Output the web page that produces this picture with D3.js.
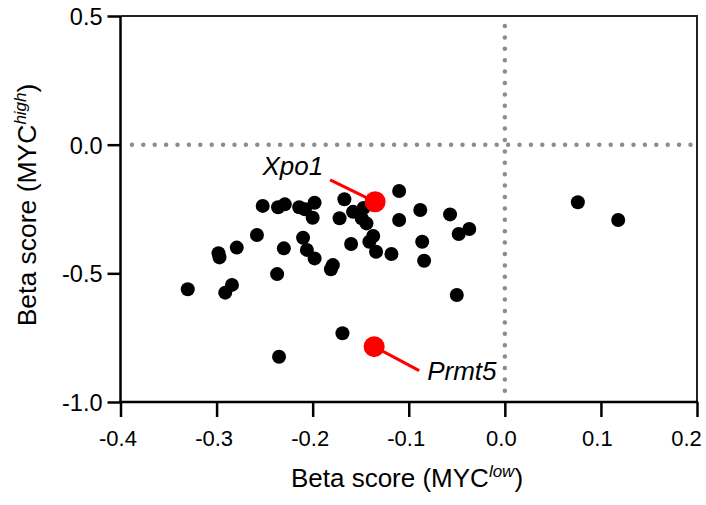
<!DOCTYPE html>
<html><head><meta charset="utf-8">
<script src="https://cdn.jsdelivr.net/npm/d3@7"></script>
<style>body{margin:0;background:#fff}svg{display:block;font-family:"Liberation Sans",Arial,sans-serif}</style>
</head><body><svg id="c" width="706" height="505"></svg>
<script>
const xValues = [-0.330,-0.298,-0.297,-0.291,-0.284,-0.279,-0.258,-0.252,-0.236,-0.229,-0.237,-0.230,-0.214,-0.208,-0.198,-0.200,-0.210,-0.206,-0.198,-0.179,-0.181,-0.167,-0.172,-0.158,-0.149,-0.144,-0.137,-0.141,-0.134,-0.160,-0.118,-0.110,-0.110,-0.088,-0.086,-0.084,-0.057,-0.048,-0.037,-0.050,0.076,0.118,-0.169,-0.235,-0.147];
const yValues = [-0.562,-0.422,-0.438,-0.575,-0.545,-0.400,-0.351,-0.238,-0.243,-0.232,-0.503,-0.403,-0.243,-0.251,-0.226,-0.284,-0.362,-0.409,-0.442,-0.468,-0.484,-0.212,-0.286,-0.261,-0.286,-0.306,-0.355,-0.377,-0.416,-0.386,-0.425,-0.180,-0.293,-0.254,-0.377,-0.451,-0.271,-0.347,-0.328,-0.584,-0.224,-0.293,-0.733,-0.824,-0.246];
const highlightGenes = ["Xpo1","Prmt5"];
const highlightX = [-0.135,-0.136];
const highlightY = [-0.222,-0.785];
const xTicks = [-0.4,-0.3,-0.2,-0.1,0.0,0.1,0.2];
const yTicks = [0.5,0.0,-0.5,-1.0];

const svg = d3.select("#c");
const L=120.5, R=697, T=16, B=402;
const x = d3.scaleLinear().domain([-0.4,0.2]).range([L,R]);
const y = d3.scaleLinear().domain([-1.0,0.5]).range([B,T]);

svg.append("path").attr("d",`M${L},${T}H${R}V${B}`).attr("fill","none").attr("stroke","#222").attr("stroke-width",2);

const dot = {stroke:"#8c8c8c","stroke-width":4.5,"stroke-dasharray":"0,11.4","stroke-linecap":"round"};
const hl = svg.append("line").attr("x1",x(-0.4)+11.4).attr("x2",R).attr("y1",y(0)).attr("y2",y(0));
const vl = svg.append("line").attr("x1",x(0)).attr("x2",x(0)).attr("y1",T+10).attr("y2",B);
for (const [k,v] of Object.entries(dot)) { hl.attr(k,v); vl.attr(k,v); }

const fmt = v => d3.format(".1f")(v).replace("\u2212","-");
const xa = svg.append("g").attr("transform",`translate(0,${B})`)
  .call(d3.axisBottom(x).tickValues(xTicks).tickFormat(fmt).tickSize(15).tickSizeOuter(0));
const ya = svg.append("g").attr("transform",`translate(${L},0)`)
  .call(d3.axisLeft(y).tickValues(yTicks).tickFormat(fmt).tickSize(13).tickSizeOuter(0));
[xa,ya].forEach(g=>{
  g.select(".domain").attr("stroke","#000").attr("stroke-width",2.5);
  g.selectAll(".tick line").attr("stroke","#000").attr("stroke-width",2.5);
  g.selectAll("text").attr("fill","#000").attr("font-family","Liberation Sans, Arial, sans-serif");
});
xa.select(".domain").attr("d",`M${L-1},0H${R+1}`);
ya.select(".domain").attr("d",`M0,${T}V${B+1}`);
xa.selectAll("text").attr("font-size",22).attr("dy","1.2em")
  .attr("x",(d,i)=> i===xTicks.length-1 ? -11 : (d<0 ? -3 : -4));
ya.selectAll("text").attr("font-size",23.5).attr("dy","0.36em").attr("x",-18);

svg.append("g").selectAll("circle").data(xValues).join("circle")
  .attr("cx",d=>x(d)).attr("cy",(d,i)=>y(yValues[i])).attr("r",7).attr("fill","#000");

const offs = [[-52,-27,"end"],[53,33,"start"]];
const hg = svg.append("g");
highlightGenes.forEach((g,i)=>{
  const px=x(highlightX[i]), py=y(highlightY[i]);
  const [dx,dy,anc]=offs[i];
  const lx = i===0 ? px+dx+7 : px+dx-8;
  const ly = i===0 ? py+dy+5 : py+dy-9;
  hg.append("line").attr("x1",px).attr("y1",py).attr("x2",lx).attr("y2",ly).attr("stroke","#f00").attr("stroke-width",3);
  hg.append("circle").attr("cx",px).attr("cy",py).attr("r",10.5).attr("fill","#f00");
  hg.append("text").attr("x",px+dx).attr("y",py+dy).attr("text-anchor",anc)
    .attr("font-size",26).attr("font-style","italic").text(g);
});

const xt = svg.append("text").attr("x",407).attr("y",487).attr("text-anchor","middle").attr("font-size",26);
xt.append("tspan").text("Beta score (MYC");
xt.append("tspan").attr("font-size",17).attr("font-style","italic").attr("dy",-10).text("low");
xt.append("tspan").attr("dy",10).text(")");
const yt = svg.append("text").attr("transform","translate(36,205) rotate(-90)").attr("text-anchor","middle").attr("font-size",26.5);
yt.append("tspan").text("Beta score (MYC");
yt.append("tspan").attr("font-size",17).attr("font-style","italic").attr("dy",-10).text("high");
yt.append("tspan").attr("dy",10).text(")");
</script></body></html>
